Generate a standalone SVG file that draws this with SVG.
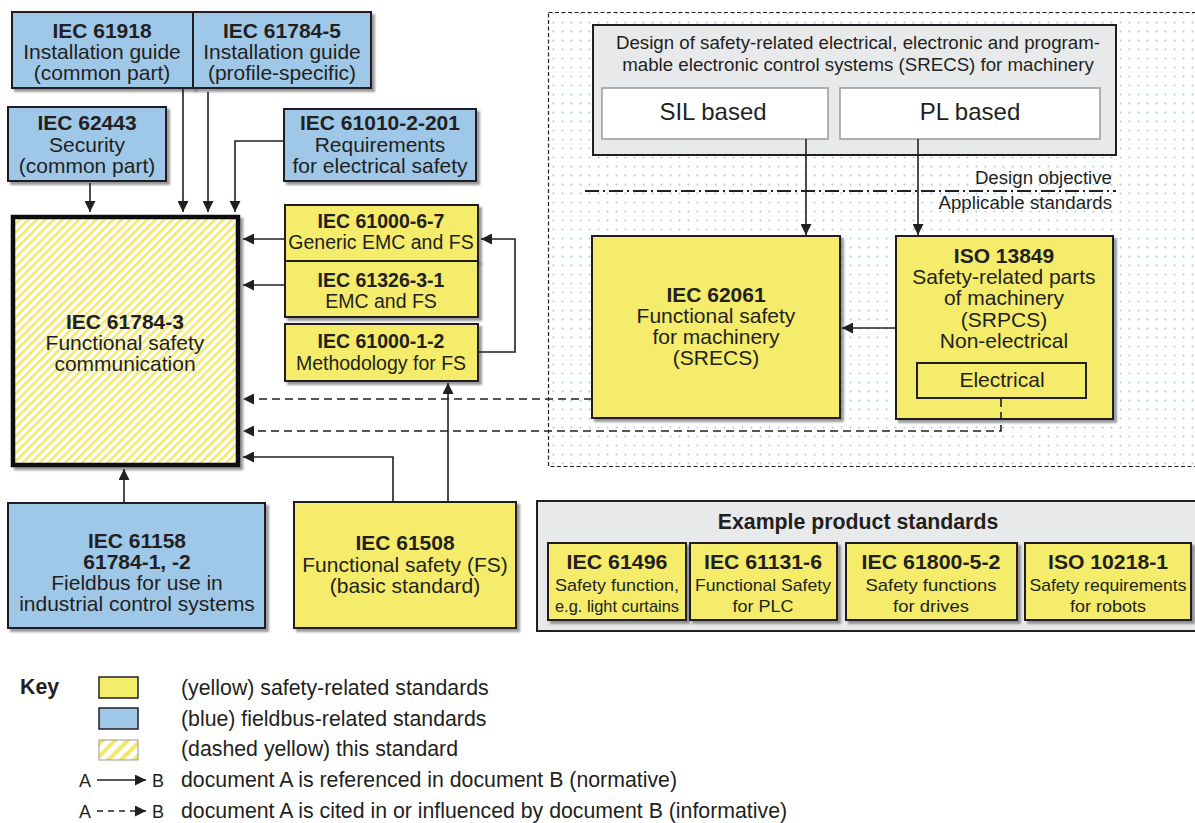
<svg xmlns="http://www.w3.org/2000/svg" width="1195" height="823" viewBox="0 0 1195 823">
<defs>
<style>
text{font-family:"Liberation Sans",Arial,sans-serif;fill:#231f20;}
.t{font-size:21px;text-anchor:middle;}
.b{font-weight:bold;}
.m{font-size:19.5px;text-anchor:middle;}
.s{font-size:17px;text-anchor:middle;}
.k{font-size:21.3px;}
.d{font-size:18.7px;}
.blue{fill:#9fc8e8;stroke:#231f20;stroke-width:2;}
.yel{fill:#f4ec6b;stroke:#231f20;stroke-width:2;}
.ln{fill:none;stroke:#231f20;stroke-width:1.6;}
.da{stroke-dasharray:8 5;}
</style>
<marker id="ah" viewBox="0 0 10 10" refX="10" refY="5" markerWidth="11" markerHeight="11" markerUnits="userSpaceOnUse" orient="auto">
<path d="M0,0 L10,5 L0,10 Z" fill="#231f20"/>
</marker>
<filter id="sh" x="-10%" y="-10%" width="130%" height="130%">
<feDropShadow dx="3" dy="3" stdDeviation="1" flood-color="#555" flood-opacity="0.6"/>
</filter>
<pattern id="hatch" width="6" height="6" patternUnits="userSpaceOnUse" patternTransform="rotate(45)">
<rect width="6" height="6" fill="#fff"/>
<rect width="2.6" height="6" fill="#f2e86a"/>
</pattern>
<pattern id="hatch2" width="9" height="9" patternUnits="userSpaceOnUse" patternTransform="rotate(45)">
<rect width="9" height="9" fill="#fff"/>
<rect width="4" height="9" fill="#f2e86a"/>
</pattern>
<pattern id="dots" width="9" height="9" patternUnits="userSpaceOnUse">
<circle cx="4.5" cy="4.5" r="1" fill="#a6c9ea"/>
</pattern>
</defs>
<rect width="1195" height="823" fill="#fff"/>

<g id="region">
<rect x="548.5" y="12.5" width="660" height="454" fill="url(#dots)" stroke="#231f20" stroke-width="1.2" stroke-dasharray="4 2.5"/>
</g>

<g id="design">
<rect x="593" y="25" width="523" height="130" fill="#e8e9eb" stroke="#231f20" stroke-width="2"/>
<text x="858" y="49" class="d" text-anchor="middle">Design of safety-related electrical, electronic and program-</text>
<text x="858" y="71" class="d" text-anchor="middle">mable electronic control systems (SRECS) for machinery</text>
</g>
<g id="sil">
<rect x="602" y="88" width="226" height="51" fill="#fff" stroke="#999" stroke-width="1.5"/>
<text x="713" y="120" style="font-size:24px;text-anchor:middle">SIL based</text>
</g>
<g id="pl">
<rect x="840" y="88" width="260" height="51" fill="#fff" stroke="#999" stroke-width="1.5"/>
<text x="970" y="120" style="font-size:24px;text-anchor:middle">PL based</text>
</g>
<g id="divider">
<line x1="585" y1="191" x2="1116" y2="191" stroke="#231f20" stroke-width="1.8" stroke-dasharray="14 4 2 4"/>
<text x="1112" y="184" class="d" text-anchor="end">Design objective</text>
<text x="1112" y="209" class="d" text-anchor="end">Applicable standards</text>
</g>

<g id="iec61918">
<rect x="12" y="12" width="181" height="76" class="blue" filter="url(#sh)"/>
<text x="102" y="38" class="t b">IEC 61918</text>
<text x="102" y="59" class="t">Installation guide</text>
<text x="102" y="80" class="t">(common part)</text>
</g>
<g id="iec61784-5">
<rect x="193" y="12" width="178" height="76" class="blue" filter="url(#sh)"/>
<text x="282" y="38" class="t b">IEC 61784-5</text>
<text x="282" y="59" class="t">Installation guide</text>
<text x="282" y="80" class="t">(profile-specific)</text>
</g>
<g id="iec62443">
<rect x="8" y="107" width="158" height="74" class="blue" filter="url(#sh)"/>
<text x="87" y="130" class="t b">IEC 62443</text>
<text x="87" y="152" class="t">Security</text>
<text x="87" y="173" class="t">(common part)</text>
</g>
<g id="iec61010">
<rect x="284" y="109" width="192" height="72" class="blue" filter="url(#sh)"/>
<text x="380" y="130" class="t b">IEC 61010-2-201</text>
<text x="380" y="152" class="t">Requirements</text>
<text x="380" y="173" class="t">for electrical safety</text>
</g>

<g id="iec61784-3">
<rect x="13" y="217" width="225" height="248" fill="url(#hatch)" stroke="#111" stroke-width="4.5" filter="url(#sh)"/>
<text x="125" y="329" class="t b">IEC 61784-3</text>
<text x="125" y="350" class="t">Functional safety</text>
<text x="125" y="371" class="t">communication</text>
</g>

<g id="iec61000-6-7">
<rect x="285" y="205" width="193" height="56" class="yel" filter="url(#sh)"/>
<text x="381" y="228" class="m b">IEC 61000-6-7</text>
<text x="381" y="249" class="m">Generic EMC and FS</text>
</g>
<g id="iec61326">
<rect x="285" y="261" width="193" height="56" class="yel" filter="url(#sh)"/>
<text x="381" y="287" class="m b">IEC 61326-3-1</text>
<text x="381" y="308" class="m">EMC and FS</text>
</g>
<g id="iec61000-1-2">
<rect x="285" y="324" width="193" height="57" class="yel" filter="url(#sh)"/>
<text x="381" y="348" class="m b">IEC 61000-1-2</text>
<text x="381" y="370" class="m">Methodology for FS</text>
</g>

<g id="iec62061">
<rect x="592" y="236" width="248" height="182" class="yel" filter="url(#sh)"/>
<text x="716" y="302" class="t b">IEC 62061</text>
<text x="716" y="323" class="t">Functional safety</text>
<text x="716" y="344" class="t">for machinery</text>
<text x="716" y="365" class="t">(SRECS)</text>
</g>
<g id="iso13849">
<rect x="896" y="236" width="217" height="183" class="yel" filter="url(#sh)"/>
<text x="1004" y="263" class="t b">ISO 13849</text>
<text x="1004" y="284" class="t">Safety-related parts</text>
<text x="1004" y="305" class="t">of machinery</text>
<text x="1004" y="327" class="t">(SRPCS)</text>
<text x="1004" y="348" class="t">Non-electrical</text>
<rect x="917" y="363" width="169" height="35" fill="none" stroke="#231f20" stroke-width="2"/>
<text x="1002" y="387" class="t">Electrical</text>
</g>

<g id="iec61158">
<rect x="8" y="503" width="257" height="125" class="blue" filter="url(#sh)"/>
<text x="137" y="548" class="t b">IEC 61158</text>
<text x="137" y="569" class="t b">61784-1, -2</text>
<text x="137" y="590" class="t">Fieldbus for use in</text>
<text x="137" y="611" class="t">industrial control systems</text>
</g>
<g id="iec61508">
<rect x="294" y="502" width="222" height="126" class="yel" filter="url(#sh)"/>
<text x="405" y="550" class="t b">IEC 61508</text>
<text x="405" y="572" class="t">Functional safety (FS)</text>
<text x="405" y="593" class="t">(basic standard)</text>
</g>

<g id="products">
<rect x="537" y="501" width="670" height="130" fill="#e8e9eb" stroke="#231f20" stroke-width="2"/>
<text x="858" y="529" style="font-size:21.3px;font-weight:bold;text-anchor:middle">Example product standards</text>
</g>
<g id="iec61496">
<rect x="548" y="543" width="138" height="77" class="yel" filter="url(#sh)"/>
<text x="617" y="569" class="t b" textLength="101" lengthAdjust="spacingAndGlyphs">IEC 61496</text>
<text x="617" y="591" class="s" textLength="124" lengthAdjust="spacingAndGlyphs">Safety function,</text>
<text x="617" y="612" class="s" textLength="124" lengthAdjust="spacingAndGlyphs">e.g. light curtains</text>
</g>
<g id="iec61131">
<rect x="690" y="543" width="147" height="77" class="yel" filter="url(#sh)"/>
<text x="763" y="569" class="t b" textLength="118" lengthAdjust="spacingAndGlyphs">IEC 61131-6</text>
<text x="763" y="591" class="s" textLength="136" lengthAdjust="spacingAndGlyphs">Functional Safety</text>
<text x="763" y="612" class="s" textLength="61" lengthAdjust="spacingAndGlyphs">for PLC</text>
</g>
<g id="iec61800">
<rect x="846" y="543" width="171" height="77" class="yel" filter="url(#sh)"/>
<text x="931" y="569" class="t b" textLength="139" lengthAdjust="spacingAndGlyphs">IEC 61800-5-2</text>
<text x="931" y="591" class="s" textLength="131" lengthAdjust="spacingAndGlyphs">Safety functions</text>
<text x="931" y="612" class="s" textLength="76" lengthAdjust="spacingAndGlyphs">for drives</text>
</g>
<g id="iso10218">
<rect x="1025" y="543" width="166" height="77" class="yel" filter="url(#sh)"/>
<text x="1108" y="569" class="t b" textLength="120" lengthAdjust="spacingAndGlyphs">ISO 10218-1</text>
<text x="1108" y="591" class="s" textLength="157" lengthAdjust="spacingAndGlyphs">Safety requirements</text>
<text x="1108" y="612" class="s" textLength="76" lengthAdjust="spacingAndGlyphs">for robots</text>
</g>

<g id="connectors" class="ln">
<path class="ln" d="M183,89 V212" marker-end="url(#ah)"/>
<path class="ln" d="M208,92 V212" marker-end="url(#ah)"/>
<path class="ln" d="M90,183 V212" marker-end="url(#ah)"/>
<path class="ln" d="M284,141 H235 V212" marker-end="url(#ah)"/>
<path class="ln" d="M285,239 H243" marker-end="url(#ah)"/>
<path class="ln" d="M285,285 H243" marker-end="url(#ah)"/>
<path class="ln" d="M478,352 H515 V239 H481" marker-end="url(#ah)"/>
<path class="ln da" d="M592,399 H243" marker-end="url(#ah)"/>
<path class="ln da" d="M1001,399 V431 H243" marker-end="url(#ah)"/>
<path class="ln" d="M393,502 V457 H243" marker-end="url(#ah)"/>
<path class="ln" d="M448,502 V383" marker-end="url(#ah)"/>
<path class="ln" d="M124,503 V469" marker-end="url(#ah)"/>
<path class="ln" d="M806,139 V235" marker-end="url(#ah)"/>
<path class="ln" d="M918,139 V235" marker-end="url(#ah)"/>
<path class="ln" d="M896,328 H842" marker-end="url(#ah)"/>
</g>

<g id="key">
<text x="20" y="694" class="k b">Key</text>
<rect x="99" y="677" width="39" height="21" fill="#f4ec6b" stroke="#231f20" stroke-width="1.5"/>
<rect x="99" y="708" width="39" height="21" fill="#9fc8e8" stroke="#231f20" stroke-width="1.5"/>
<rect x="99" y="740" width="39" height="20" fill="url(#hatch2)" stroke="#999" stroke-width="1"/>
<text x="181" y="695" class="k">(yellow) safety-related standards</text>
<text x="181" y="726" class="k">(blue) fieldbus-related standards</text>
<text x="181" y="756" class="k">(dashed yellow) this standard</text>
<text x="79" y="787" style="font-size:18px">A</text>
<path class="ln" d="M97,780 H146" marker-end="url(#ah)"/>
<text x="152" y="787" style="font-size:18px">B</text>
<text x="181" y="787" class="k">document A is referenced in document B (normative)</text>
<text x="79" y="818" style="font-size:18px">A</text>
<path class="ln da" d="M97,811 H146" style="stroke-dasharray:6 5" marker-end="url(#ah)"/>
<text x="152" y="818" style="font-size:18px">B</text>
<text x="181" y="818" class="k">document A is cited in or influenced by document B (informative)</text>
</g>
</svg>
